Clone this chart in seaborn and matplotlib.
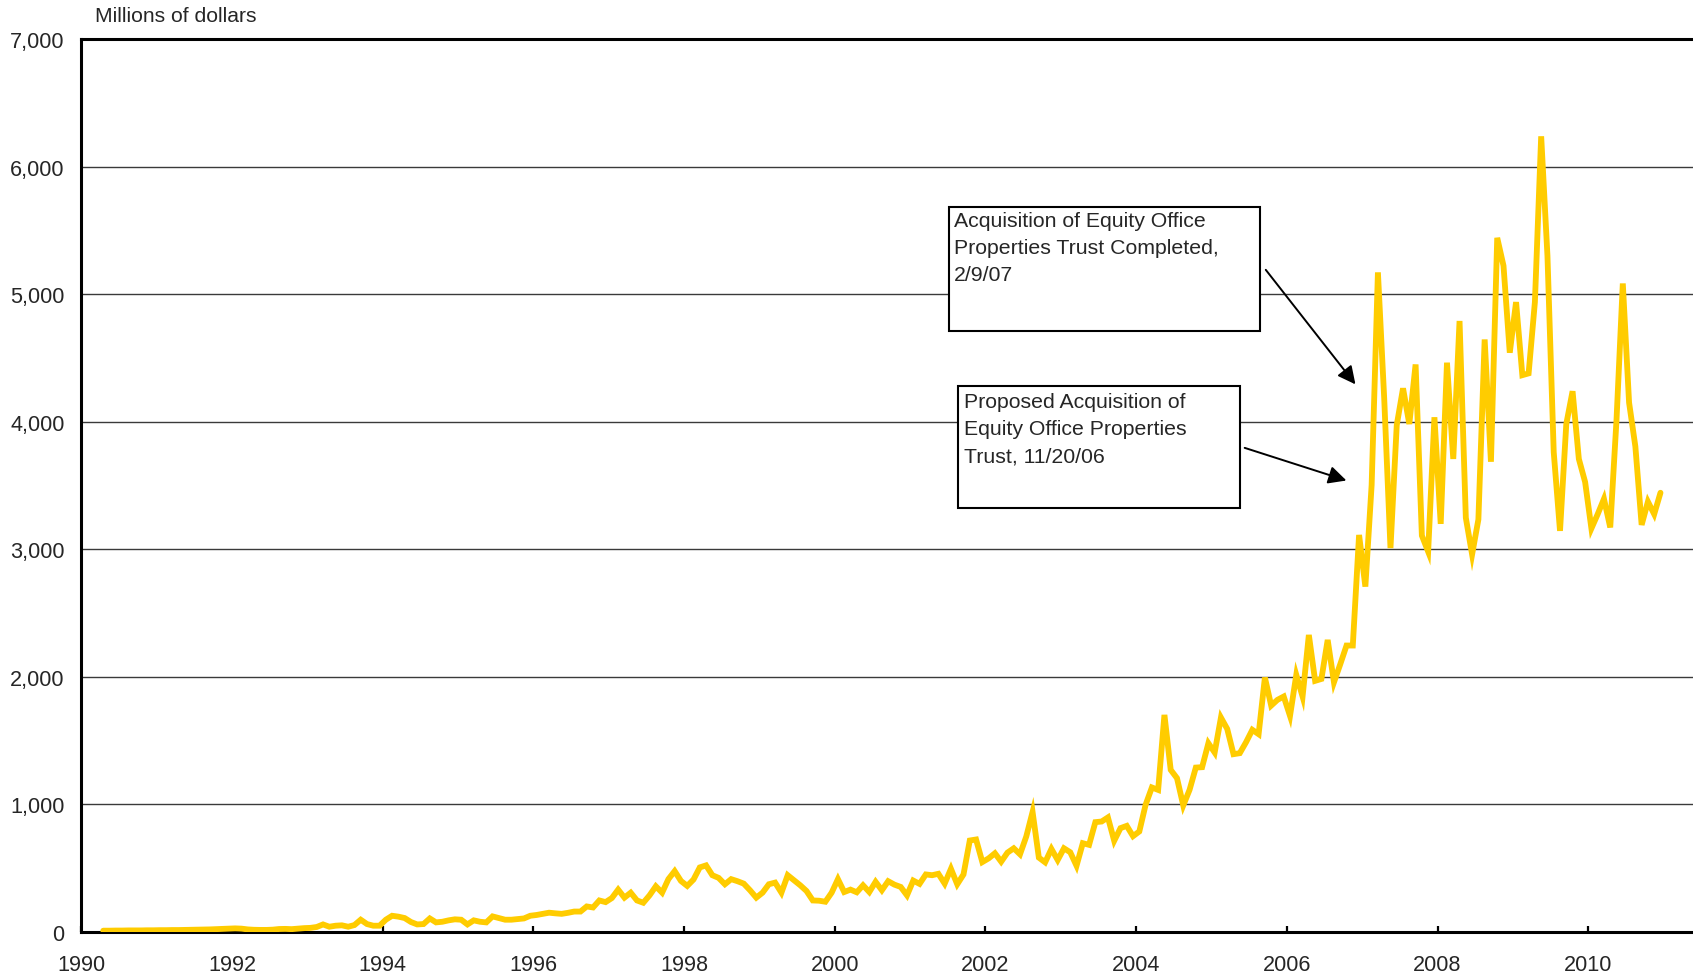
import numpy as np
import pandas as pd
import matplotlib
matplotlib.use("Agg")
import matplotlib.pyplot as plt
from matplotlib.patches import Rectangle
import seaborn as sns

# Monthly volume, millions of dollars, Apr 1990 - Dec 2010
start_month = "1990-04"
volume = [
    8, 8, 9, 9, 10, 10, 10, 11, 11,                                         # 1990 (Apr-Dec)
    12, 12, 13, 13, 14, 15, 16, 17, 18, 20, 22, 24,                         # 1991
    26, 24, 18, 15, 14, 14, 16, 21, 22, 20, 24, 28,                         # 1992
    30, 37, 57, 39, 47, 50, 39, 52, 94, 60, 47, 47,                         # 1993
    94, 125, 118, 107, 76, 57, 60, 104, 73, 78, 89, 97,                     # 1994
    94, 57, 89, 78, 73, 120, 107, 94, 94, 99, 104, 125,                     # 1995
    131, 140, 149, 144, 140, 148, 158, 158, 198, 190, 245, 232,             # 1996
    264, 330, 267, 306, 245, 227, 285, 356, 306, 412, 475, 398,             # 1997
    359, 409, 504, 520, 443, 422, 372, 412, 396, 377, 325, 267,             # 1998
    306, 372, 385, 306, 443, 404, 364, 319, 245, 243, 235, 306,             # 1999
    412, 311, 330, 309, 364, 311, 391, 325, 396, 369, 351, 285,             # 2000
    401, 375, 449, 443, 454, 377, 493, 372, 449, 715, 723, 546,             # 2001
    575, 615, 549, 620, 654, 607, 747, 939, 581, 544, 649, 562,             # 2002
    654, 623, 517, 694, 681, 859, 864, 896, 713, 812, 830, 749,             # 2003
    786, 995, 1131, 1112, 1700, 1269, 1204, 990, 1112, 1287, 1290, 1478,    # 2004
    1405, 1679, 1590, 1392, 1400, 1486, 1583, 1549, 1993, 1773, 1818, 1844, # 2005
    1692, 2014, 1844, 2327, 1967, 1982, 2288, 1956, 2097, 2244, 2244, 3111, # 2006
    2706, 3503, 5170, 4183, 3008, 3973, 4261, 3981, 4448, 3106, 2980, 4034, # 2007
    3198, 4462, 3707, 4789, 3246, 2958, 3232, 4644, 3685, 5441, 5222, 4540, # 2008
    4937, 4364, 4378, 4937, 6237, 5300, 3760, 3143, 3981, 4238, 3707, 3526, # 2009
    3162, 3274, 3394, 3170, 4015, 5083, 4149, 3805, 3190, 3372, 3274, 3442, # 2010
]

x_ticks = list(range(1990, 2011, 2))
y_ticks = list(range(0, 7001, 1000))

note_completed = "Acquisition of Equity Office\nProperties Trust Completed,\n2/9/07"
note_proposed = "Proposed Acquisition of\nEquity Office Properties\nTrust, 11/20/06"

dates = pd.date_range(start_month, periods=len(volume), freq="MS")
df = pd.DataFrame({
    "year": dates.year + (dates.month - 0.5) / 12,
    "volume": volume,
})

sns.set_style("white")
plt.rcParams["font.family"] = ["Liberation Sans", "DejaVu Sans"]

W, H = 1693, 979
fig = plt.figure(figsize=(W / 100, H / 100), dpi=100)
ax = fig.add_axes([81.3 / W, 1 - 932.7 / H, 1 - 81.3 / W, (932.7 - 40) / H])

# gridlines
for v in y_ticks[1:-1]:
    ax.axhline(v, color="#3a3a3a", lw=1.0, zorder=1)

sns.lineplot(data=df, x="year", y="volume", ax=ax, color="#FFCC00",
             lw=4.2, zorder=3, solid_joinstyle="miter")

ax.set_xlim(1990, 2011.39)
ax.set_ylim(0, 7000)
ax.set_xticks(x_ticks)
ax.set_yticks(y_ticks)
ax.set_yticklabels([f"{v:,}" for v in y_ticks])
ax.set_xlabel("")
ax.set_ylabel("")
ax.tick_params(axis="x", direction="in", length=4.5, width=1.6, color="black",
               labelsize=15.6, pad=16, bottom=True)
ax.tick_params(axis="y", length=0, labelsize=15.6, pad=12, left=True)

for side in ["left", "top", "bottom"]:
    ax.spines[side].set_visible(True)
    ax.spines[side].set_color("black")
    ax.spines[side].set_linewidth(2.2)
ax.spines["right"].set_visible(False)

fig.text(95 / W, 1 - 16.7 / H, "Millions of dollars", fontsize=15.2,
         va="center", ha="left")

# annotation boxes
ax.add_patch(Rectangle((2001.51, 4714), 4.13, 972, facecolor="white",
                       edgecolor="black", lw=1.5, zorder=4))
ax.text(2001.58, 5655, note_completed, fontsize=15.3, va="top", ha="left",
        linespacing=1.54, zorder=5)
ax.add_patch(Rectangle((2001.64, 3326), 3.74, 953, facecolor="white",
                       edgecolor="black", lw=1.5, zorder=4))
ax.text(2001.71, 4230, note_proposed, fontsize=15.3, va="top", ha="left",
        linespacing=1.54, zorder=5)

arrow = dict(arrowstyle="-|>,head_length=0.6,head_width=0.3", color="black",
             lw=1.4, mutation_scale=18, shrinkA=0, shrinkB=0)
ax.annotate("", xy=(2006.91, 4292), xytext=(2005.72, 5190), arrowprops=arrow, zorder=5)
ax.annotate("", xy=(2006.79, 3538), xytext=(2005.44, 3794), arrowprops=arrow, zorder=5)

fig.savefig("out.png", dpi=100)
